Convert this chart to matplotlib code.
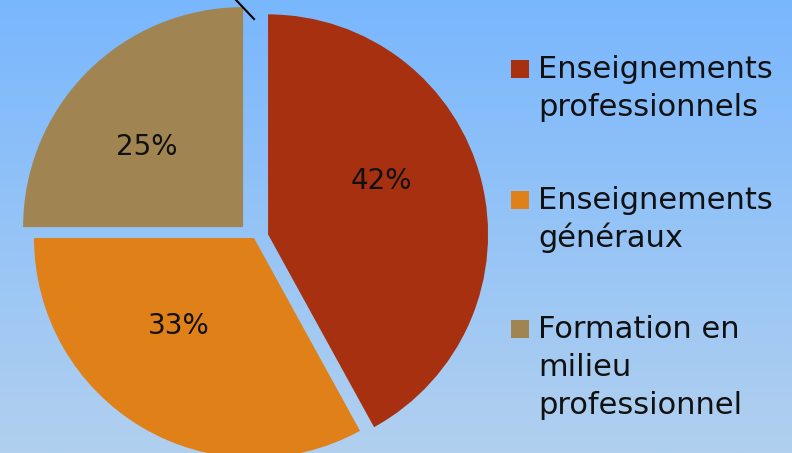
import numpy as np
import matplotlib
matplotlib.use("Agg")
import matplotlib.pyplot as plt
from matplotlib.patches import Rectangle
from matplotlib.lines import Line2D

# ================================================================================================
# Données
categories = ["Enseignements\nprofessionnels",
              "Enseignements\ngénéraux",
              "Formation en\nmilieu\nprofessionnel"]
valeurs = [42, 33, 25]
couleurs = ["#a63010", "#e08018", "#a08552"]
ecarts = [0.066, 0.0, 0.07]

# ================================================================================================
# Mise en page (pixels)
W, H = 792, 453
centre_x, centre_y = 254, 238      # centre du camembert (image)
rayon_px = 220

# placement des pourcentages (décalage d'angle en degrés, distance au centre)
decalage_angle = [11, -10, 5]
distance_pct = [0.57, 0.525, 0.57]

fig = plt.figure(figsize=(W / 100, H / 100), dpi=100)

# Fond dégradé
fond = fig.add_axes([0, 0, 1, 1])
haut = np.array([121, 183, 254]) / 255
bas = np.array([177, 208, 239]) / 255
t = np.linspace(0, 1, 256)[:, None]
degrade = (haut[None, :] * (1 - t) + bas[None, :] * t)[:, None, :]
fond.imshow(degrade, aspect="auto", extent=[0, 1, 0, 1])
fond.set_axis_off()

# Camembert
ax = fig.add_axes([0, 0, 1, 1])
ax.patch.set_alpha(0)
wedges, textes, pcts = ax.pie(valeurs, colors=couleurs, explode=ecarts, startangle=90,
                              counterclock=False, autopct="%1.0f%%", pctdistance=0.57,
                              textprops={"fontsize": 20, "color": "#111111"},
                              wedgeprops={"linewidth": 0})
for w, p, da, d in zip(wedges, pcts, decalage_angle, distance_pct):
    ang = np.deg2rad((w.theta1 + w.theta2) / 2 + da)
    cx, cy = w.center
    p.set_position((cx + d * np.cos(ang), cy + d * np.sin(ang)))

ax.set_xlim(-centre_x / rayon_px, (W - centre_x) / rayon_px)
ax.set_ylim(-(H - centre_y) / rayon_px, centre_y / rayon_px)
ax.set_aspect("equal")
ax.set_axis_off()

# Trait du titre (coupé en haut)
fig.add_artist(Line2D([236 / W, 254 / W], [1, 1 - 19 / H], color="black", lw=1.5))

# ================================================================================================
# Légende
x_carre, x_texte = 511, 538
debuts = [78, 209, 338]
interligne = 38
for cat, coul, y0 in zip(categories, couleurs, debuts):
    fig.add_artist(Rectangle((x_carre / W, 1 - y0 / H), 18 / W, 18 / H,
                             transform=fig.transFigure, color=coul, lw=0))
    for k, ligne in enumerate(cat.split("\n")):
        fig.text(x_texte / W, 1 - (y0 + k * interligne) / H, ligne, fontsize=22,
                 color="#111111", va="baseline", ha="left")

fig.savefig("out.png", dpi=100)
